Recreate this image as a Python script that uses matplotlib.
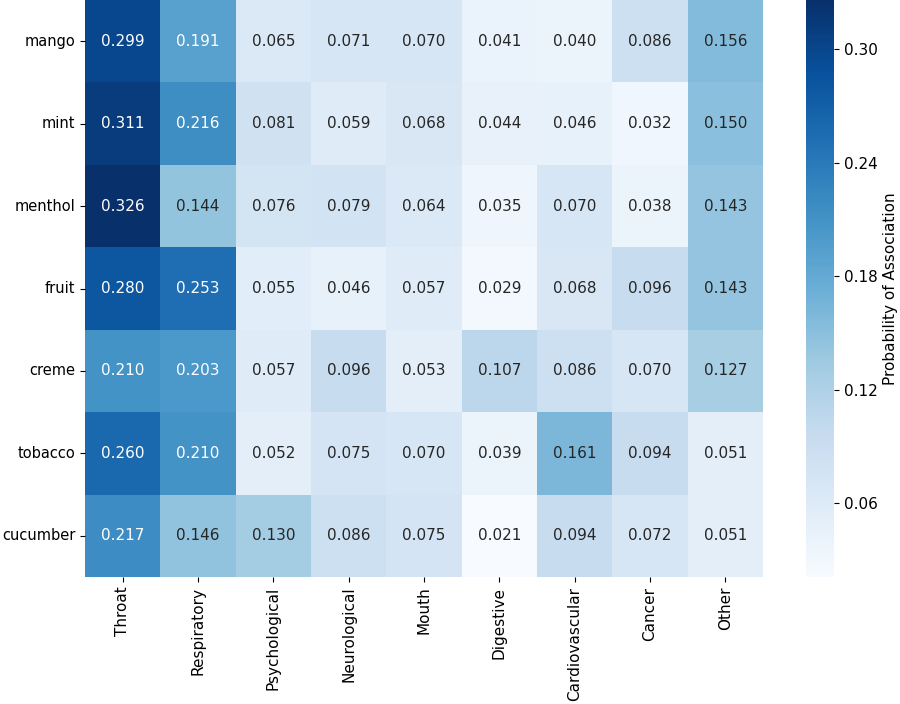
import numpy as np
import matplotlib
matplotlib.use("Agg")
from matplotlib import pyplot as plt
import seaborn as sns

flavors = ["mango", "mint", "menthol", "fruit", "creme", "tobacco", "cucumber"]
categories = ["Throat", "Respiratory", "Psychological", "Neurological", "Mouth",
              "Digestive", "Cardiovascular", "Cancer", "Other"]

mango = [0.299, 0.191, 0.065, 0.071, 0.070, 0.041, 0.040, 0.086, 0.156]
mint = [0.311, 0.216, 0.081, 0.059, 0.068, 0.044, 0.046, 0.032, 0.150]
menthol = [0.326, 0.144, 0.076, 0.079, 0.064, 0.035, 0.070, 0.038, 0.143]
fruit = [0.280, 0.253, 0.055, 0.046, 0.057, 0.029, 0.068, 0.096, 0.143]
creme = [0.210, 0.203, 0.057, 0.096, 0.053, 0.107, 0.086, 0.070, 0.127]
tobacco = [0.260, 0.210, 0.052, 0.075, 0.070, 0.039, 0.161, 0.094, 0.051]
cucumber = [0.217, 0.146, 0.130, 0.086, 0.075, 0.021, 0.094, 0.072, 0.051]

data = np.array([mango, mint, menthol, fruit, creme, tobacco, cucumber])

fig = plt.figure(figsize=(9, 7.04), dpi=100)
ax = fig.add_axes([85 / 900, 1 - 577 / 704, 678 / 900, 577 / 704])
cax = fig.add_axes([806 / 900, 1 - 577 / 704, 28 / 900, 577 / 704])

sns.heatmap(data, ax=ax, cbar_ax=cax, cmap="Blues", annot=True, fmt=".3f",
            annot_kws={"fontsize": 11},
            xticklabels=categories, yticklabels=flavors,
            cbar_kws={"ticks": [0.06, 0.12, 0.18, 0.24, 0.30]})

ax.set_xticklabels(categories, rotation=90, fontsize=11)
ax.set_yticklabels(flavors, rotation=0, fontsize=10.5)
cax.tick_params(labelsize=11)
cax.set_ylabel("Probability of Association", fontsize=11)

fig.savefig("out.png", dpi=100)
